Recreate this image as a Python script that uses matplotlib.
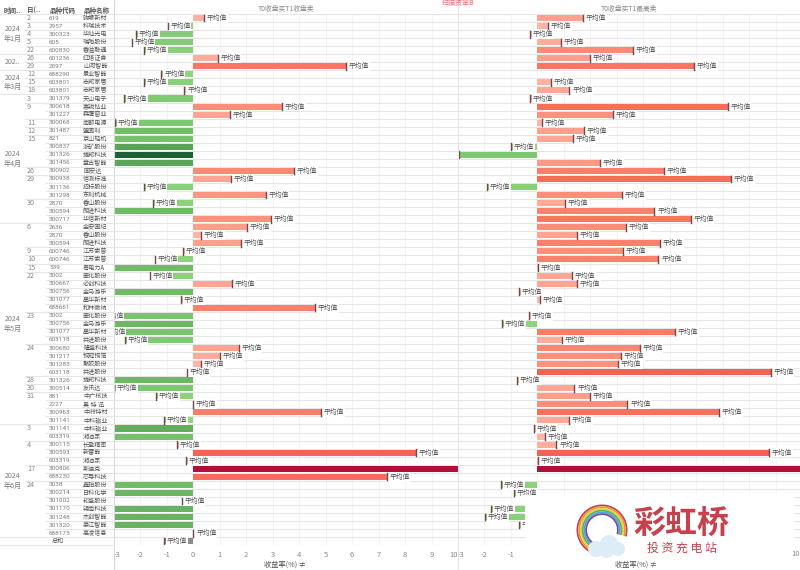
import numpy as np
import matplotlib
matplotlib.use('Agg')
import matplotlib.pyplot as plt
from matplotlib.patches import Wedge, Circle, Rectangle

plt.rcParams['font.family'] = ['Noto Sans CJK SC', 'DejaVu Sans']

# table columns
months = ['2024\n年1月', '202..', '2024\n年3月', '2024\n年4月', '2024\n年5月', '2024\n年6月']
month_starts = [0, 5, 7, 10, 26, 51, 65]
days = ['2', '3', '4', '5', '22', '26', '29', '12', '15', '18', '3', '9', '', '11', '12', '15', '', '', '', '26', '29', '', '', '30', '', '',
        '6', '', '', '9', '10', '15', '22', '', '', '', '', '23', '', '', '', '24', '', '', '', '28', '30', '31', '', '', '',
        '3', '', '4', '', '', '17', '', '24', '', '', '', '', '', '']
codes = ['619', '2957', '300323', '605', '600830', '601236', '2097', '688290', '603801', '603801', '301379', '300618', '301227',
         '300068', '301487', '821', '300837', '301326', '301456', '300902', '300938', '301136', '301298', '2870', '300594', '300717',
         '2636', '2870', '300594', '600746', '600746', '539', '3002', '300667', '300756', '301077', '688661', '3002', '300756',
         '301077', '603118', '300680', '301217', '301283', '603118', '301326', '300514', '881', '2227', '300963', '301141',
         '301141', '603319', '300115', '300593', '603319', '300806', '688230', '3038', '300214', '301002', '301170', '301248',
         '301320', '688175']
names = ['驹螺新材', '科瑞技术', '华灿光电', '瑞陶股份', '香溢融通', '红塔证券', '山河智能', '景业智能', '志邦家居', '志邦家居', '天山电子', '寒锐钴业', '森鹰窗业',
         '南都电源', '盟固利', '京山轻机', '浙矿股份', '捷邦科技', '盘古智能', '国安达', '信测标准', '招标股份', '东利机械', '香山股份', '朗进科技', '华信新材',
         '金安国纪', '香山股份', '朗进科技', '江苏索普', '江苏索普', '粤电力A', '壶化股份', '必创科技', '金马游乐', '星华新材', '和林微纳', '壶化股份', '金马游乐',
         '星华新材', '共进股份', '隆盛科技', '铜冠铜箔', '聚胶股份', '共进股份', '捷邦科技', '友讯达', '中广核技', '奥 特 迅', '中洲特材', '中科磁业',
         '中科磁业', '湘油泵', '长盈精密', '新雷能', '湘油泵', '斯迪克', '芯导科技', '鑫铂股份', '日科化学', '崧盛股份', '锡南科技', '杰创智能',
         '豪江智能', '高凌信息']

# returns in % (values below the axis only show through their colour)
close_sell = [0.42, -0.97, -2.16, -2.33, -1.85, 0.92, 5.76, -1.2, -1.85, -0.33, -2.6, 3.35, 1.37,
              -2.94, -4.1, -3.9, -5.2, -9.0, -5.0, 3.8, 1.41, -1.87, 2.73, -1.52, -4.2, 2.93,
              2.04, 0.3, 1.79, -0.4, -1.46, -4.2, -1.65, 1.48, -4.2, -0.45, 4.59, -3.5, -4.3,
              -3.42, -2.59, 1.71, 1.02, 0.3, -0.25, -4.3, -3.0, -1.4, -0.01, 4.83, -1.09,
              -4.7, -3.9, -0.6, 8.42, -0.28, 12.0, 7.31, -4.1, -4.4, -0.44, -4.5, -4.5,
              -4.5, 0.01]
high_sell = [1.72, 0.39, -0.29, 0.89, 3.62, 1.99, 5.92, np.nan, 0.52, 1.21, -0.29, 7.18, 2.86,
             0.16, 1.77, 1.33, -0.99, -2.97, 2.36, 4.77, 7.32, -1.9, 3.19, 1.04, 4.42, 5.79,
             3.36, 1.48, 4.63, 3.22, 4.57, 0.01, 1.30, 1.5, -0.69, 0.08, np.nan, -0.31, -1.33,
             5.21, 0.91, 3.86, 3.17, 3.04, 8.81, -0.77, 1.40, 1.97, 3.4, 6.87, 1.19,
             -0.13, 0.28, 0.72, 8.74, 0.01, 12.0, np.nan, -1.38, -0.89, np.nan, -1.75, -1.98,
             -0.71, np.nan]
total_close = -1.09
high_no_label = [17]

x_ticks = [-3, -2, -1, 0, 1, 2, 3, 4, 5, 6, 7, 8, 9, 10]
color_stops = [-9, -6, -5, -4, -2.5, -1, 0, 1, 3, 5, 7, 9, 12]
color_values = ['#1f5f36', '#4f9a50', '#5ba558', '#75c06a', '#80cb74', '#93d67f', '#ffb8aa',
                '#ffaa9a', '#ff907c', '#fc7b67', '#f86e5c', '#f45f50', '#b0103a']
color_rgb = np.array([matplotlib.colors.to_rgb(c) for c in color_values])

W, H = 800, 570
TOP, BOTTOM = 14, 545.2
ROW_H = (BOTTOM - TOP) / 66


def bar_color(v):
    return [np.interp(v, color_stops, color_rgb[:, i]) for i in range(3)]


def row_y(i):
    return TOP + ROW_H * (i + 0.5)


def draw_panel(left_px, right_px, values, no_label=()):
    ax = fig.add_axes([left_px / W, 1 - BOTTOM / H, (right_px - left_px) / W, (BOTTOM - TOP) / H])
    ax.set_xlim(-3, 10)
    ax.set_ylim(66, 0)
    for s in ax.spines.values():
        s.set_visible(False)
    ax.set_yticks([])
    ax.set_xticks(x_ticks)
    ax.set_xticklabels([str(t) for t in x_ticks], fontsize=5.5, color='#8a8a8a')
    ax.tick_params(axis='x', length=0, pad=4)
    labels = ax.get_xticklabels()
    labels[0].set_ha('left')
    labels[-1].set_ha('right')
    ax.grid(axis='x', color='#f3f3f3', lw=0.7)
    ax.set_axisbelow(True)
    for r in range(67):
        ax.axhline(r, color='#e6e6e6', lw=0.8, zorder=1)
    # one px in data units, for the gap between the mean line and its label
    px = 13 / (right_px - left_px)
    for i, v in enumerate(values):
        if np.isnan(v):
            continue
        ax.barh(i + 0.5, v, height=0.75, color=bar_color(v), zorder=2)
        # mean line and label fall outside the axis for these
        if v > 10 or v < -3.8:
            continue
        ax.plot([v, v], [i + 0.08, i + 0.92], color='#7a4548', lw=1.0, zorder=4)
        if i in no_label:
            continue
        ax.text(v + 2.7 * px, i + 0.5, '平均值', fontsize=4.9, color='#555555', ha='left', va='center', zorder=3,
                bbox=dict(facecolor='white', edgecolor='none', pad=0.6), clip_on=True)
    return ax


fig = plt.figure(figsize=(W / 100, H / 100), dpi=100)

ax1 = draw_panel(113.8, 458, close_sell)
ax1.barh(65.5, total_close, height=0.75, color='#8c8c8c', zorder=2)
ax1.plot([total_close, total_close], [65.08, 65.92], color='#7a4548', lw=1.0, zorder=4)
ax1.text(total_close + 0.1, 65.5, '平均值', fontsize=4.9, color='#555555', ha='left', va='center', zorder=3,
         bbox=dict(facecolor='white', edgecolor='none', pad=0.6))
ax2 = draw_panel(458, 802.2, high_sell, high_no_label)
# the watermark sits over the rest of this axis
for t, lab in zip(x_ticks, ax2.get_xticklabels()):
    if t >= 0:
        lab.set_visible(False)

# everything outside the two panels, in pixel coordinates
frame = fig.add_axes([0, 0, 1, 1], zorder=10)
frame.set_xlim(0, W)
frame.set_ylim(H, 0)
frame.axis('off')

frame.plot([114, 114], [0, H], color='#d8d8d8', lw=0.8)
frame.plot([458, 458], [0, H], color='#e4e4e4', lw=0.8)

for x, t in zip([4, 27, 50, 83], ['时间..', '日(..', '品种代码', '品种名称']):
    frame.text(x, 10, t, fontsize=4.7, fontweight='bold', color='#555555', va='center')
frame.text(286, 9.5, 'T0收盘买T1收盘卖', fontsize=4.9, color='#8a8a8a', ha='center', va='center')
frame.text(629, 9.5, 'T0收盘买T1最高卖', fontsize=4.9, color='#8a8a8a', ha='center', va='center')
frame.text(458, 3, '扫描资金B', fontsize=5, color='#ee6a6a', ha='center', va='center')

# row separators: wider the higher the grouping level
for i in range(len(codes)):
    y = TOP + ROW_H * i
    x0 = 46
    if days[i]:
        x0 = 25
    if i in month_starts:
        x0 = 0
    frame.plot([x0, 114], [y, y], color='#e6e6e6', lw=0.8)
    frame.text(27, row_y(i), days[i], fontsize=5.2, color='#8a8a8a', va='center')
    frame.text(49, row_y(i), codes[i], fontsize=4.6, color='#7d7d7d', va='center', family=['Roboto', 'Noto Sans CJK SC'])
    frame.text(83, row_y(i), names[i], fontsize=4.4, color='#555555', va='center')
frame.plot([0, 114], [TOP, TOP], color='#e6e6e6', lw=0.8)
frame.plot([0, 114], [TOP + ROW_H * 65, TOP + ROW_H * 65], color='#e6e6e6', lw=0.8)
frame.plot([0, 114], [BOTTOM, BOTTOM], color='#e6e6e6', lw=0.8)
frame.text(58, row_y(65), '总和', fontsize=4.4, color='#555555', ha='center', va='center')

for k, m in enumerate(months):
    yc = (row_y(month_starts[k]) + row_y(month_starts[k + 1] - 1)) / 2
    frame.text(13, yc, m, fontsize=5.1, color='#7d7d7d', ha='center', va='center', linespacing=1.3)

frame.text(799.5, 553.5, '10', fontsize=5.5, color='#8a8a8a', ha='right', va='center', zorder=6)
frame.text(285, 565, '收益率(%) ≠', fontsize=5.2, color='#555555', ha='center', va='center')
frame.text(636, 565, '收益率(%) ≠', fontsize=5.2, color='#555555', ha='center', va='center')

# watermark
frame.add_patch(Rectangle((525, 495), 269, 66, facecolor='white', edgecolor='none', zorder=5))
ring_colors = ['#c8404a', '#e89a3c', '#e8d04a', '#68b04c', '#48a8d8', '#7a4a9c']
for k, c in enumerate(ring_colors):
    frame.add_patch(Wedge((602, 530), 25.5 - k * 1.75, -240, 15, width=1.75, facecolor=c, edgecolor='none', zorder=6))
for (cx, cy, r) in [(596, 549, 8), (609, 544, 9), (618, 549, 7), (607, 551, 7)]:
    frame.add_patch(Circle((cx, cy), r, facecolor='#dcedf8', edgecolor='none', zorder=7))
frame.text(681, 525, '彩虹桥', fontsize=23, fontweight='bold', color='#c8404c', ha='center', va='center', zorder=8)
frame.text(682, 548, '投 资 充 电 站', fontsize=8.6, color='#c8404c', ha='center', va='center', zorder=8)

fig.savefig('out.png', dpi=100)
